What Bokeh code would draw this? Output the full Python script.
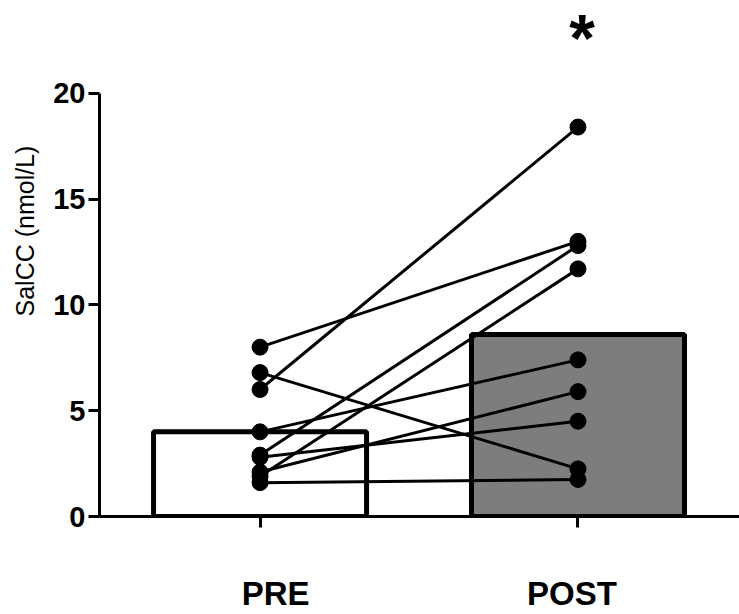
import numpy as np
from bokeh.plotting import figure
from bokeh.models import Label, FixedTicker, Range1d, Title
from bokeh.embed import file_html
from bokeh.resources import INLINE

# ---- data ----
groups = ["PRE", "POST"]
pre_values = [8.0, 6.0, 6.8, 4.0, 2.9, 1.9, 2.1, 2.8, 1.6]
post_values = [13.0, 18.4, 2.25, 7.4, 12.8, 11.7, 5.9, 4.5, 1.75]
bar_means = [4.0, 8.6]
y_ticks = [0, 5, 10, 15, 20]
y_label = "SalCC (nmol/L)"
signif_mark = "*"

FONT = "Liberation Sans"

p = figure(width=739, height=614, output_backend="svg", toolbar_location=None,
           x_range=Range1d(-0.505, 1.508), y_range=Range1d(0, 24.38),
           min_border_left=97, min_border_right=0, min_border_top=0,
           min_border_bottom=96)
p.outline_line_color = None
p.xgrid.visible = False
p.ygrid.visible = False
p.background_fill_color = "white"
p.border_fill_color = "white"

# bars
xs = list(range(len(groups)))
p.vbar(x=xs, top=bar_means, bottom=0, width=0.67,
       fill_color=["white", "#7d7d7d"], line_color="black", line_width=5)

# paired lines
p.segment(x0=[xs[0]] * len(pre_values), y0=pre_values,
          x1=[xs[1]] * len(post_values), y1=post_values,
          line_color="black", line_width=3)

# points
p.scatter(x=[xs[0]] * len(pre_values), y=pre_values, size=16, color="black")
p.scatter(x=[xs[1]] * len(post_values), y=post_values, size=16, color="black")

# y axis
ya = p.yaxis[0]
ya.ticker = FixedTicker(ticks=y_ticks)
ya.bounds = (0, 20)
ya.axis_line_width = 3
ya.major_tick_line_width = 3
ya.major_tick_out = 11
ya.major_tick_in = 0
ya.minor_tick_line_color = None
ya.major_label_standoff = 3
ya.major_label_text_font = FONT
ya.major_label_text_font_style = "bold"
ya.major_label_text_font_size = "29px"
ya.major_label_text_color = "black"

# y label as a left-side title (allows shifting along the axis)
p.add_layout(Title(text=y_label, align="left", offset=200, standoff=20,
                   vertical_align="top",
                   text_font=FONT, text_font_style="normal",
                   text_font_size="25px", text_color="black"), "left")

# x axis: tick marks at the groups (minor ticks), labels slightly shifted
label_shift = [0.049, -0.019]
label_pos = [xs[i] + label_shift[i] for i in range(len(groups))]
xa = p.xaxis[0]
xa.ticker = FixedTicker(ticks=label_pos, minor_ticks=xs)
xa.major_label_overrides = {label_pos[i]: groups[i] for i in range(len(groups))}
xa.axis_line_width = 3
xa.major_tick_line_color = None
xa.major_tick_out = 11
xa.major_tick_in = 0
xa.minor_tick_line_color = "black"
xa.minor_tick_line_width = 3
xa.minor_tick_out = 11
xa.minor_tick_in = 0
xa.major_label_standoff = 47
xa.major_label_text_font = FONT
xa.major_label_text_font_style = "bold"
xa.major_label_text_font_size = "33px"
xa.major_label_text_color = "black"

# significance mark
p.add_layout(Label(x=xs[1] + 0.013, y=24.38, text=signif_mark,
                   text_align="center", text_baseline="top",
                   text_font=FONT, text_font_style="bold",
                   text_font_size="66px", text_color="black"))

open("out.html", "w").write(file_html(p, INLINE))
